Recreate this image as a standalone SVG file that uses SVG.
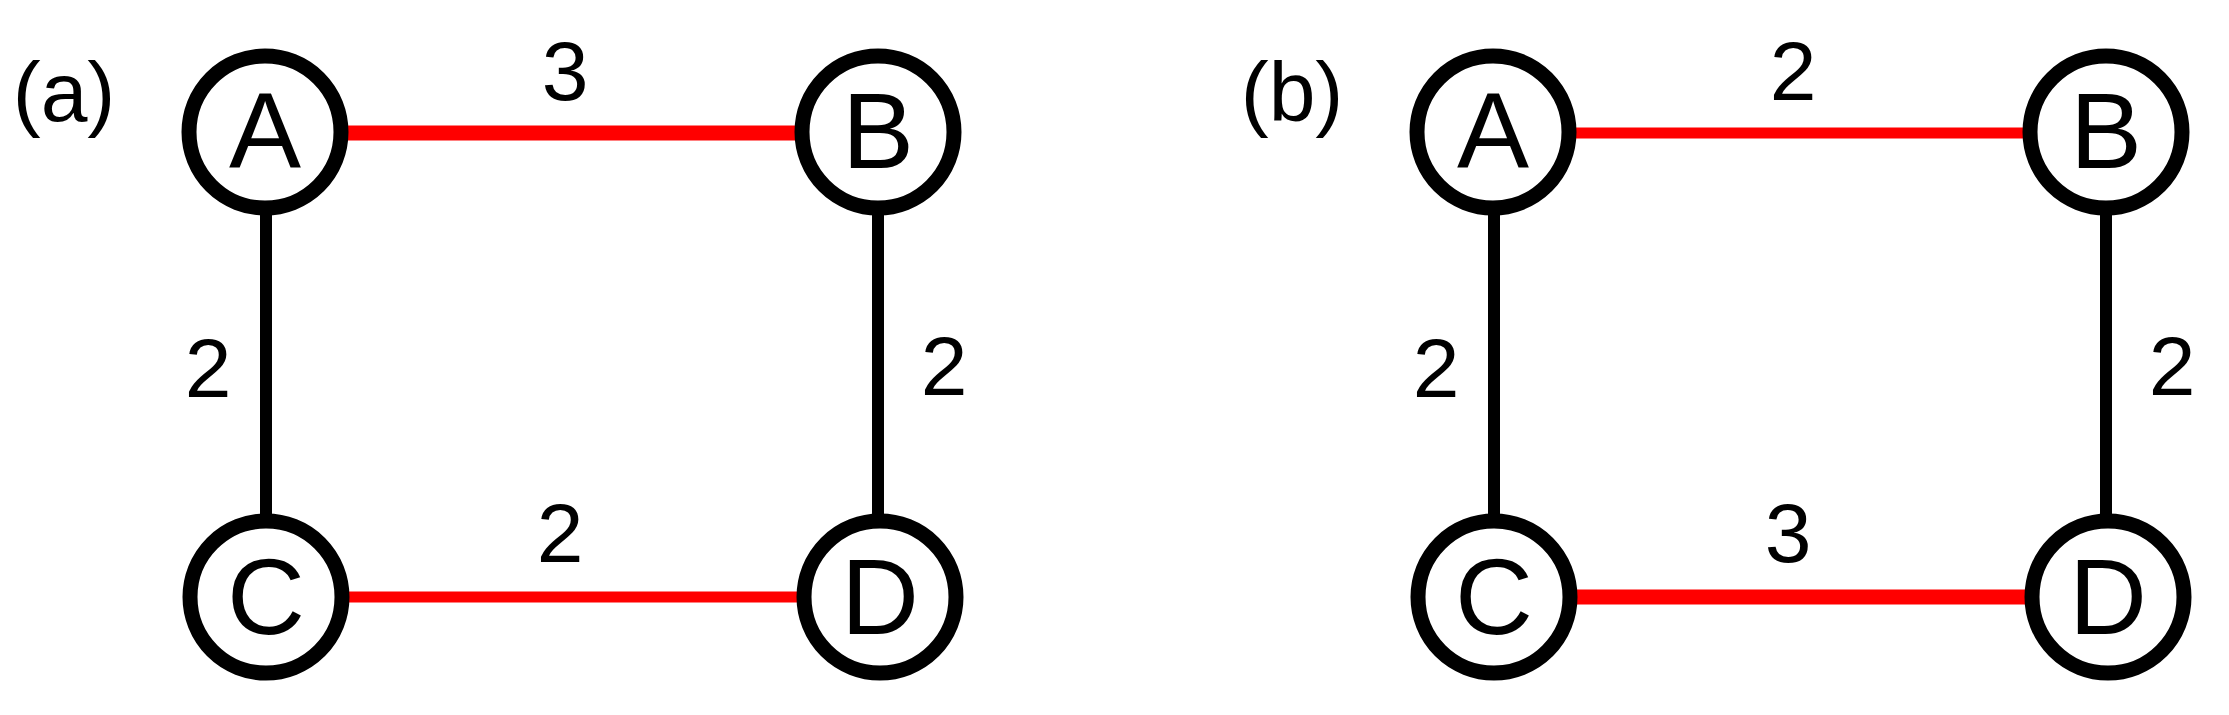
<svg xmlns="http://www.w3.org/2000/svg" width="2229" height="715" viewBox="0 0 2229 715">
<style>
.n{fill:#fff;stroke:#000;stroke-width:15}
.t{font-family:"Liberation Sans",Arial,sans-serif;fill:#000;text-anchor:middle}
.L{font-size:108px}
.w{font-size:84px}
.k{stroke:#000;stroke-width:12}
.r{stroke:#f00;stroke-linecap:round}
</style>
<rect width="2229" height="715" fill="#fff"/>
<g id="edges">
<line class="k" x1="266" y1="210" x2="266" y2="515"/>
<line class="k" x1="878" y1="210" x2="878" y2="515"/>
<line class="r" stroke-width="15" x1="340" y1="133" x2="804" y2="133"/>
<line class="r" stroke-width="11" x1="342" y1="597" x2="806" y2="597"/>
<line class="k" x1="1494" y1="210" x2="1494" y2="515"/>
<line class="k" x1="2106" y1="210" x2="2106" y2="515"/>
<line class="r" stroke-width="11" x1="1568" y1="133" x2="2032" y2="133"/>
<line class="r" stroke-width="15" x1="1570" y1="597" x2="2034" y2="597"/>
</g>
<g id="labels">
<text class="t w" x="64" y="121">(a)</text>
<text class="t w" x="565" y="100">3</text>
<text class="t w" x="208" y="397">2</text>
<text class="t w" x="944" y="395">2</text>
<text class="t w" x="560" y="562">2</text>
<text class="t w" x="1292" y="121">(b)</text>
<text class="t w" x="1793" y="100">2</text>
<text class="t w" x="1436" y="397">2</text>
<text class="t w" x="2172" y="395">2</text>
<text class="t w" x="1788" y="562">3</text>
</g>
<g id="nA"><ellipse class="n" cx="265" cy="132" rx="76" ry="76"/><text class="t L" x="265" y="168">A</text></g>
<g id="nB"><ellipse class="n" cx="878" cy="132" rx="76" ry="76"/><text class="t L" x="878" y="168">B</text></g>
<g id="nC"><ellipse class="n" cx="266" cy="597" rx="76" ry="76"/><text class="t L" x="266" y="634">C</text></g>
<g id="nD"><ellipse class="n" cx="880" cy="597" rx="76" ry="76"/><text class="t L" x="880" y="634">D</text></g>
<g id="nA2"><ellipse class="n" cx="1493" cy="132" rx="76" ry="76"/><text class="t L" x="1493" y="168">A</text></g>
<g id="nB2"><ellipse class="n" cx="2106" cy="132" rx="76" ry="76"/><text class="t L" x="2106" y="168">B</text></g>
<g id="nC2"><ellipse class="n" cx="1494" cy="597" rx="76" ry="76"/><text class="t L" x="1494" y="634">C</text></g>
<g id="nD2"><ellipse class="n" cx="2108" cy="597" rx="76" ry="76"/><text class="t L" x="2108" y="634">D</text></g>
</svg>
